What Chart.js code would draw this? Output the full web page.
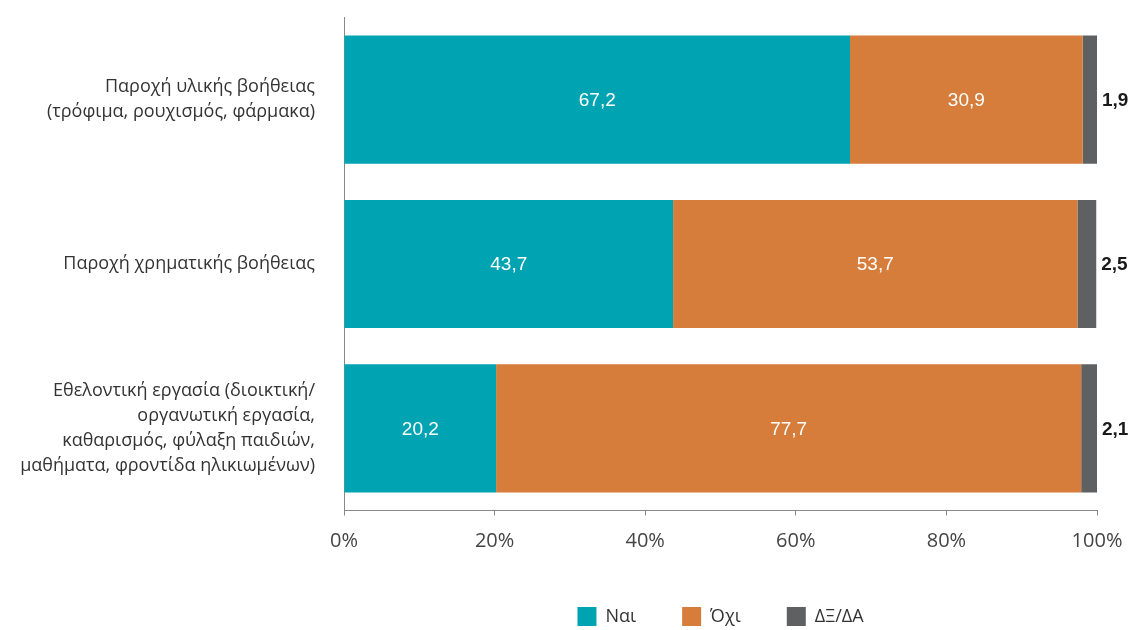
<!DOCTYPE html>
<html>
<head>
<meta charset="utf-8">
<script src="https://cdn.jsdelivr.net/npm/chart.js@4"></script>
<style>
  html, body { margin: 0; padding: 0; background: #fff; }
  #wrap { width: 1134px; height: 630px; }
</style>
</head>
<body>
<div id="wrap"><canvas id="myChart"></canvas></div>
<script>
// categories + series
let categories = [
    ['Παροχή υλικής βοήθειας', '(τρόφιμα, ρουχισμός, φάρμακα)'],
    'Παροχή χρηματικής βοήθειας',
    ['Εθελοντική εργασία (διοικτική/', 'οργανωτική εργασία,', 'καθαρισμός, φύλαξη παιδιών,', 'μαθήματα, φροντίδα ηλικιωμένων)']
];
let yes_vals = [67.2, 43.7, 20.2];
let no_vals = [30.9, 53.7, 77.7];
let dk_vals = [1.9, 2.5, 2.1];
let series_names = ['Ναι', 'Όχι', 'ΔΞ/ΔΑ'];
let tick_vals = [0, 20, 40, 60, 80, 100];

const FONT = "'Open Sans', 'Noto Sans', sans-serif";
const NUM_FONT = "'Liberation Sans', Arial, sans-serif";

function fmt(v) {
    return v.toFixed(1).replace('.', ',');
}

// draws the numbers on the bars (white inside, bold outside for the last one)
const barLabels = {
    id: 'barLabels',
    afterDatasetsDraw(chart) {
        let ctx = chart.ctx;
        ctx.save();
        ctx.textBaseline = 'middle';
        chart.data.datasets.forEach((ds, i) => {
            let meta = chart.getDatasetMeta(i);
            meta.data.forEach((bar, j) => {
                let v = ds.data[j];
                if (i < 2) {
                    let p = bar.getCenterPoint();
                    ctx.font = `19px ${NUM_FONT}`;
                    ctx.fillStyle = '#ffffff';
                    ctx.textAlign = 'center';
                    ctx.fillText(fmt(v), p.x, p.y + 1);
                } else {
                    ctx.font = `bold 19px ${NUM_FONT}`;
                    ctx.fillStyle = '#1a1a1a';
                    ctx.textAlign = 'left';
                    ctx.fillText(fmt(v), bar.x + 5, bar.y + 1);
                }
            });
        });
        ctx.restore();
    }
};

let ctx = document.getElementById('myChart');
let chart = new Chart(ctx, {
    type: 'bar',
    data: {
        labels: categories,
        datasets: [
            { label: series_names[0], data: yes_vals, backgroundColor: '#00a3b2' },
            { label: series_names[1], data: no_vals, backgroundColor: '#d67d3c' },
            { label: series_names[2], data: dk_vals, backgroundColor: '#5f6062' }
        ]
    },
    options: {
        indexAxis: 'y',
        responsive: true,
        maintainAspectRatio: false,
        animation: false,
        barPercentage: 0.78,
        categoryPercentage: 1,
        layout: { padding: { top: 17.5, right: 37, left: 0, bottom: -6 } },
        scales: {
            x: {
                stacked: true,
                min: 0,
                max: 100,
                afterBuildTicks: (axis) => { axis.ticks = tick_vals.map(v => ({ value: v })); },
                afterFit: (axis) => { axis.height -= 6.5; axis.paddingLeft = 0; axis.paddingRight = 0; },
                grid: { display: true, drawOnChartArea: false, drawTicks: true, tickLength: 5, color: '#888888' },
                border: { display: true, color: '#888888', width: 1 },
                ticks: {
                    padding: 14,
                    color: '#444444',
                    font: { family: FONT, size: 20 },
                    callback: (v) => v + '%'
                }
            },
            y: {
                stacked: true,
                afterFit: (axis) => { axis.width = 344; axis.paddingTop = 0; axis.paddingBottom = 0; },
                grid: { display: false },
                border: { display: true, color: '#888888', width: 1 },
                ticks: {
                    padding: 21,
                    color: '#333333',
                    font: { family: FONT, size: 18, lineHeight: 1.39 }
                }
            }
        },
        plugins: {
            legend: {
                position: 'bottom',
                fullSize: false,
                labels: {
                    boxWidth: 19,
                    boxHeight: 19,
                    padding: 46,
                    color: '#333333',
                    font: { family: FONT, size: 18 }
                }
            },
            tooltip: { enabled: false }
        }
    },
    plugins: [barLabels]
});
</script>
</body>
</html>
